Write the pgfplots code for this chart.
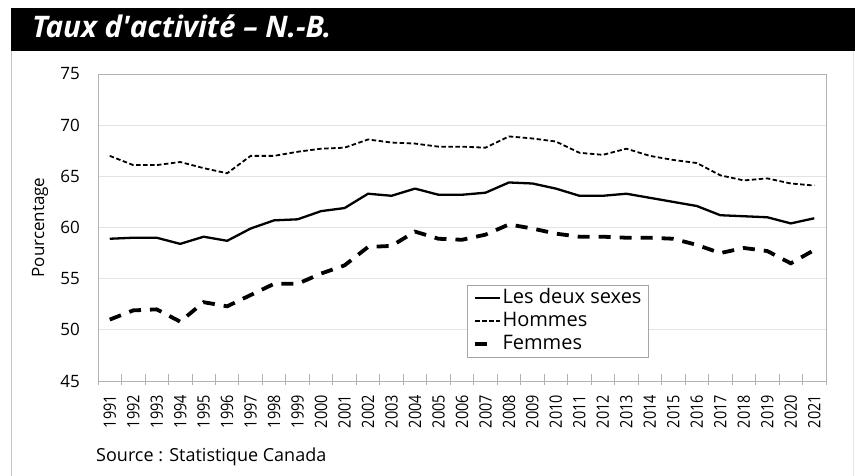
\documentclass[border=0pt]{standalone}
\usepackage{fontspec}
\setmainfont{Open Sans}
\newfontfamily\condfont[FakeStretch=0.85]{Open Sans}
\usepackage{pgfplots}
\pgfplotsset{compat=1.18}
\usepackage{pgfplotstable}
\pgfplotsset{
  longimg/.style={legend image code/.code={\draw[##1] (0pt,0pt) -- (25pt,0pt);}},
  shortimg/.style={legend image code/.code={\draw[##1] (0pt,0pt) -- (12pt,0pt);}},
}

\pgfplotstableread{
year both men women
1991 58.9 67.0 51.0
1992 59.0 66.1 51.9
1993 59.0 66.1 52.0
1994 58.4 66.4 50.8
1995 59.1 65.8 52.7
1996 58.7 65.3 52.3
1997 59.9 67.0 53.4
1998 60.7 67.0 54.5
1999 60.8 67.4 54.5
2000 61.6 67.7 55.5
2001 61.9 67.8 56.3
2002 63.3 68.6 58.1
2003 63.1 68.3 58.2
2004 63.8 68.2 59.6
2005 63.2 67.9 58.9
2006 63.2 67.9 58.8
2007 63.4 67.8 59.3
2008 64.4 68.9 60.3
2009 64.3 68.7 59.9
2010 63.8 68.4 59.4
2011 63.1 67.3 59.1
2012 63.1 67.1 59.1
2013 63.3 67.7 59.0
2014 62.9 67.0 59.0
2015 62.5 66.6 58.9
2016 62.1 66.3 58.3
2017 61.2 65.1 57.5
2018 61.1 64.6 58.0
2019 61.0 64.8 57.7
2020 60.4 64.3 56.5
2021 60.9 64.1 57.8
}\datatable

\begin{document}
\begin{tikzpicture}[x=1pt,y=1pt]
\path[use as bounding box] (0,0) rectangle (855,-476);
\fill[white] (0,0) rectangle (855,-476);
\draw[gray!45, line width=0.8pt] (11.5,-51) -- (11.5,-476);
\draw[gray!20, line width=0.8pt] (853.5,-51) -- (853.5,-476);
\fill[black] (11,-8) rectangle (855,-51);
\node[anchor=base west, inner sep=0pt, text=white, font=\fontsize{29.7}{29.7}\selectfont\bfseries\itshape] at (32,-38) {Taux d\textquotesingle activité – N.-B.};
\node[anchor=base west, inner sep=0pt, font=\fontsize{18}{18}\selectfont] at (96,-461) {Source : Statistique Canada};

\begin{axis}[
  at={(98pt,-381pt)}, anchor=south west,
  scale only axis, width=728pt, height=307pt,
  xmin=1990.5, xmax=2021.5, ymin=45, ymax=75,
  ytick={45,50,...,75},
  xtick={1991,...,2021},
  minor xtick={1990.5,1991.5,...,2021.5},
  major tick length=0pt, minor tick length=11pt, tick align=center,
  minor x tick style={gray!60, line width=0.8pt, yshift=1.5pt},
  xtick pos=left, ytick pos=left,
  ymajorgrids, major grid style={gray!22, line width=0.8pt},
  axis line style={gray!60, line width=0.8pt},
  /pgf/number format/assume math mode=true,
  x tick label style={font=\condfont\fontsize{17}{17}\selectfont, rotate=90, anchor=east, inner sep=0pt, /pgf/number format/1000 sep={}},
  xticklabel shift=14pt,
  y tick label style={font=\fontsize{17}{17}\selectfont, anchor=east, inner sep=0pt},
  yticklabel shift=18pt,
  ylabel={Pourcentage},
  ylabel style={font=\fontsize{17}{17}\selectfont, at={(axis description cs:-0.0797,0.5)}, anchor=center},
  legend style={at={(0.507,0.313)}, anchor=north west, draw=gray!70, line width=0.8pt, fill=white,
    font=\fontsize{20}{20}\selectfont, inner xsep=6pt, inner ysep=3pt, row sep=3pt,
    nodes={inner sep=1pt, text height=14pt, text depth=4pt}},
  legend cell align=left,
]
\addplot[black, line width=2.3pt, line join=round, longimg] table[x=year,y=both] {\datatable};
\addlegendentry{Les deux sexes}
\addplot[black, line width=1.8pt, dash pattern=on 4.5pt off 2.5pt, longimg] table[x=year,y=men] {\datatable};
\addlegendentry{Hommes}
\addplot[black, line width=3.8pt, dash pattern=on 12pt off 9pt, shortimg] table[x=year,y=women] {\datatable};
\addlegendentry{Femmes}
\end{axis}
\end{tikzpicture}
\end{document}
